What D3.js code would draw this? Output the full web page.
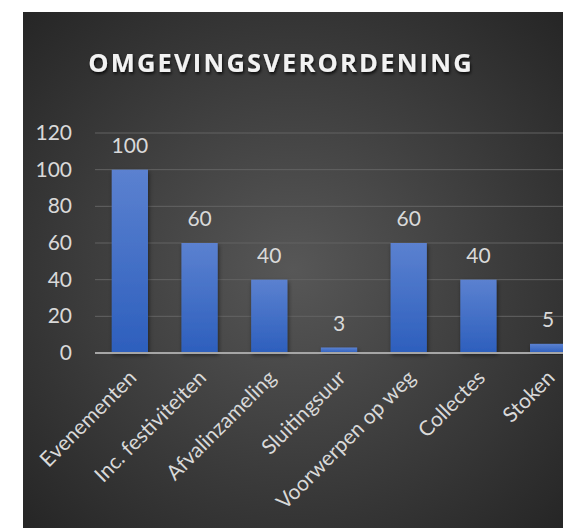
<!DOCTYPE html>
<html>
<head>
<meta charset="utf-8">
<script src="https://cdn.jsdelivr.net/npm/d3@7"></script>
<style>
  body { margin: 0; background: #fff; }
  svg { display: block; }
</style>
</head>
<body>
<svg id="chart" width="563" height="528"></svg>
<script>
const categories = ['Evenementen', 'Inc. festiviteiten', 'Afvalinzameling', 'Sluitingsuur', 'Voorwerpen op weg', 'Collectes', 'Stoken']
const values = [100, 60, 40, 3, 60, 40, 5]
const yTicks = [0, 20, 40, 60, 80, 100, 120]
const title = 'OMGEVINGSVERORDENING'

const svg = d3.select('#chart')
const defs = svg.append('defs')

// background gradient
const bg = defs.append('radialGradient').attr('id', 'bg')
  .attr('cx', '0.5').attr('cy', '0.5').attr('r', '0.7')
bg.append('stop').attr('offset', '0%').attr('stop-color', '#575757')
bg.append('stop').attr('offset', '100%').attr('stop-color', '#262626')

const barGrad = defs.append('linearGradient').attr('id', 'bar')
  .attr('x1', 0).attr('y1', 0).attr('x2', 0).attr('y2', 1)
barGrad.append('stop').attr('offset', '0%').attr('stop-color', '#5b81d0')
barGrad.append('stop').attr('offset', '100%').attr('stop-color', '#2d5fbd')

const shadow = defs.append('filter').attr('id', 'shadow')
  .attr('x', '-20%').attr('y', '-20%').attr('width', '140%').attr('height', '140%')
shadow.append('feDropShadow').attr('dx', 1).attr('dy', 2).attr('stdDeviation', 2)
  .attr('flood-color', '#000').attr('flood-opacity', 0.5)

svg.append('rect').attr('x', 23).attr('y', 12).attr('width', 540).attr('height', 516)
  .attr('fill', 'url(#bg)')

const x = d3.scaleBand().domain(categories).range([95, 583]).paddingInner(0.48).paddingOuter(0.24)
const y = d3.scaleLinear().domain([0, 120]).range([353, 133])

// gridlines
svg.append('g').selectAll('line')
  .data(yTicks.filter(d => d > 0))
  .enter().append('line')
  .attr('x1', 95).attr('x2', 563)
  .attr('y1', d => y(d)).attr('y2', d => y(d))
  .attr('stroke', '#636363').attr('stroke-width', 1)

// y axis labels
svg.append('g').selectAll('text')
  .data(yTicks)
  .enter().append('text')
  .attr('x', 72).attr('y', d => y(d) + 7)
  .attr('text-anchor', 'end')
  .attr('font-family', 'Lato, sans-serif').attr('font-size', 21)
  .attr('fill', '#d9d9d9')
  .text(d => d)

// bars
svg.append('g').selectAll('rect')
  .data(values)
  .enter().append('rect')
  .attr('x', (d, i) => x(categories[i]))
  .attr('y', d => y(d))
  .attr('width', x.bandwidth())
  .attr('height', d => y(0) - y(d))
  .attr('fill', 'url(#bar)')
  .attr('filter', 'url(#shadow)')

// axis line
svg.append('line')
  .attr('x1', 95).attr('x2', 563).attr('y1', y(0)).attr('y2', y(0))
  .attr('stroke', '#a6a6a6').attr('stroke-width', 2)

// value labels
svg.append('g').selectAll('text')
  .data(values)
  .enter().append('text')
  .attr('x', (d, i) => x(categories[i]) + x.bandwidth() / 2)
  .attr('y', d => y(d) - 17)
  .attr('text-anchor', 'middle')
  .attr('font-family', 'Lato, sans-serif').attr('font-size', 21)
  .attr('fill', '#d9d9d9')
  .text(d => d)

// x labels
svg.append('g').selectAll('text')
  .data(categories)
  .enter().append('text')
  .attr('transform', d => 'translate(' + (x(d) + x.bandwidth() / 2 + 8) + ',' + (y(0) + 26) + ') rotate(-45)')
  .attr('text-anchor', 'end')
  .attr('font-family', 'Lato, sans-serif').attr('font-size', 21)
  .attr('fill', '#d9d9d9')
  .text(d => d)

// title
const tshadow = defs.append('filter').attr('id', 'tshadow')
tshadow.append('feDropShadow').attr('dx', 1).attr('dy', 2).attr('stdDeviation', 1.5)
  .attr('flood-color', '#000').attr('flood-opacity', 0.8)

svg.append('text')
  .attr('x', 281).attr('y', 72)
  .attr('text-anchor', 'middle')
  .attr('font-family', '"Open Sans", sans-serif').attr('font-weight', 'bold')
  .attr('font-size', 25.5).attr('letter-spacing', 2.2)
  .attr('fill', '#f2f2f2')
  .attr('filter', 'url(#tshadow)')
  .text(title)
</script>
</body>
</html>
